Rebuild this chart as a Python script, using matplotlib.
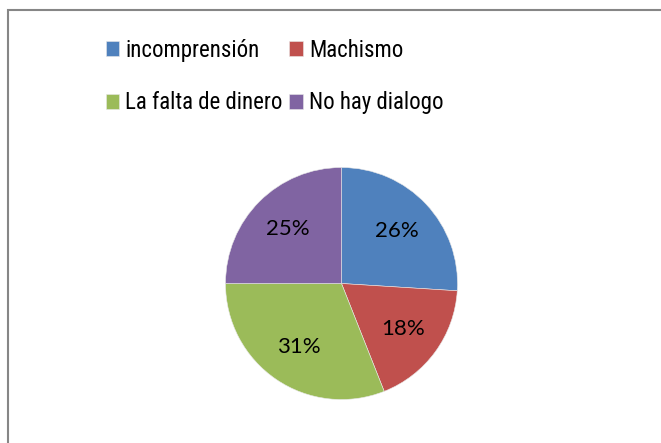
import matplotlib.pyplot as plt
from matplotlib.patches import Rectangle

# Data
labels = ['incomprensión', 'Machismo', 'La falta de dinero', 'No hay dialogo']
values = [26, 18, 31, 25]
colors = ['#4F81BD', '#C0504D', '#9BBB59', '#8064A2']

plt.rcParams['font.family'] = ['Roboto Condensed', 'Lato', 'DejaVu Sans']

W, H = 661, 443
fig = plt.figure(figsize=(W / 100, H / 100), dpi=100)

# chart border
fig.patches.append(Rectangle((8 / W, -0.05), 1.1, (H - 10) / H + 0.05,
                             transform=fig.transFigure, fill=False,
                             edgecolor='#868686', linewidth=1.5))

# pie axes: center (341.5, 283.5) px from top, radius 116 px
cx, cy, r = 341.5, H - 283.5, 116
ax = fig.add_axes([(cx - r) / W, (cy - r) / H, 2 * r / W, 2 * r / H])
wedges, _, autotexts = ax.pie(values, colors=colors, startangle=90,
                              counterclock=False, autopct='%1.0f%%',
                              pctdistance=0.66,
                              wedgeprops=dict(linewidth=0.4, edgecolor='#e8e8e8'),
                              textprops=dict(fontsize=16, color='black',
                                             family=['Lato', 'DejaVu Sans']))
ax.set_xlim(-1, 1)
ax.set_ylim(-1, 1)
ax.set_aspect('auto')
ax.axis('off')

# legend, two columns, filled row by row like the original
order = [0, 2, 1, 3]
fig.legend([wedges[i] for i in order], [labels[i] for i in order],
           ncol=2, loc='upper left', bbox_to_anchor=(85 / W, 1 - 18 / H),
           frameon=False, fontsize=16.5, handlelength=0.6, handleheight=0.6,
           handletextpad=0.25, columnspacing=0.3, labelspacing=1.3)

fig.savefig('out.png', dpi=100)
